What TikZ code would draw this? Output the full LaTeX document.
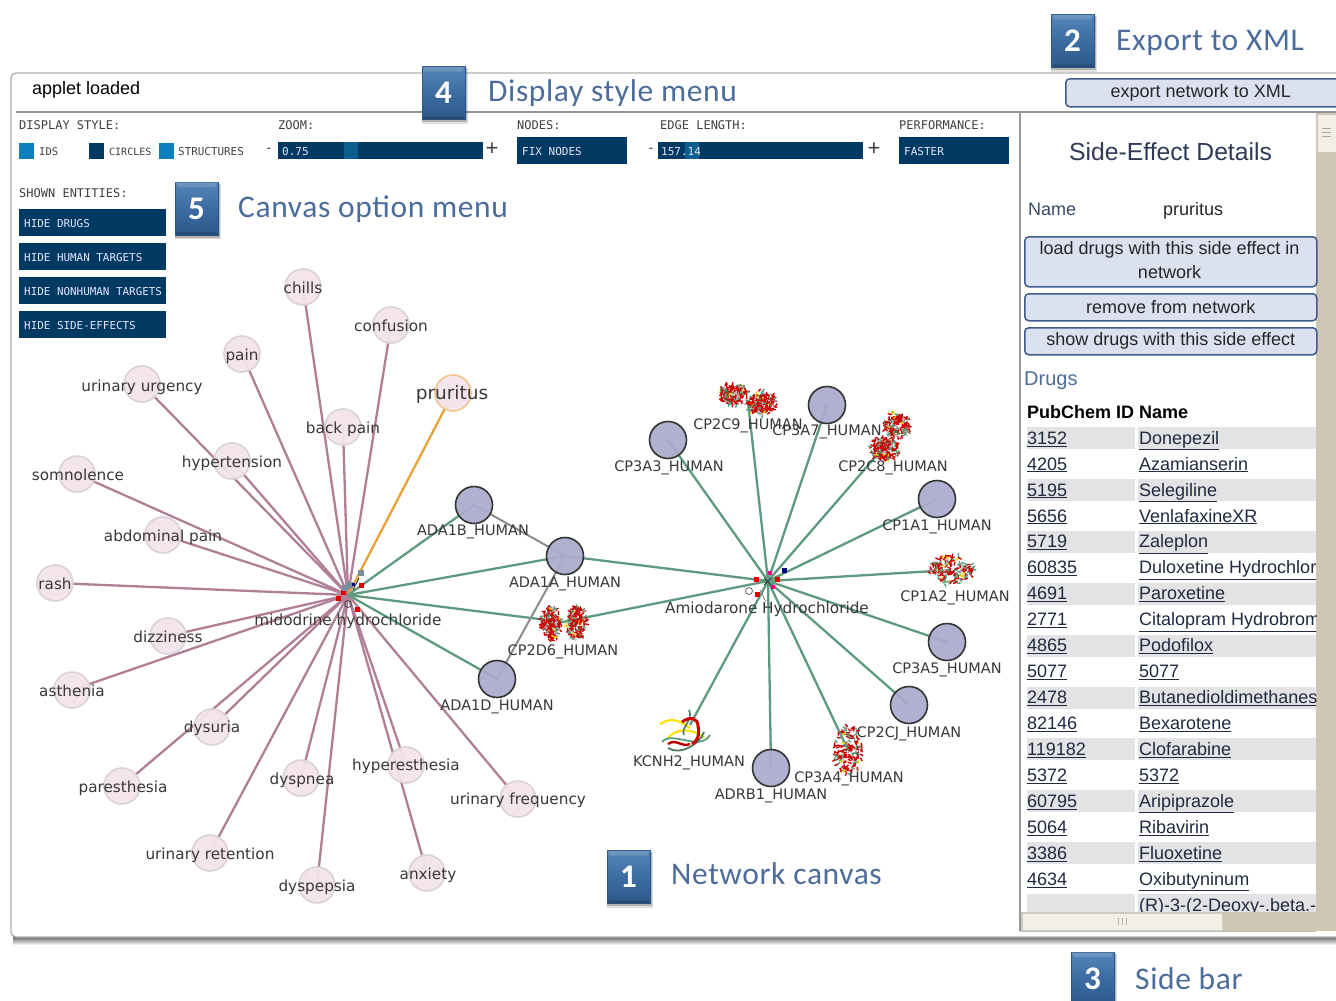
\documentclass[tikz,border=0pt]{standalone}
\usepackage{fontspec}
\usetikzlibrary{backgrounds}
\newfontfamily\netf{DejaVu Sans}
\newfontfamily\uif{Liberation Sans}
\newfontfamily\pixf{DejaVu Sans Mono}
\newfontfamily\callf[LetterSpace=2]{Carlito}
\newfontfamily\numf{Carlito}
\definecolor{navy}{HTML}{003A63}
\definecolor{skyb}{HTML}{0A80BD}
\definecolor{knob}{HTML}{0A5F8F}
\definecolor{eff}{HTML}{B07F97}
\definecolor{grn}{HTML}{5E9B7E}
\definecolor{tan}{HTML}{CFC6B3}
\definecolor{cream}{HTML}{F4EFE6}
\definecolor{rowg}{HTML}{E3E3E5}
\definecolor{calltxt}{HTML}{4C6C9B}
\definecolor{linkc}{HTML}{1F2A40}
\definecolor{btn}{HTML}{DCE1F0}
\definecolor{btnl}{HTML}{3F5A8C}
\definecolor{effp}{HTML}{F3E4EA}
\definecolor{effs}{HTML}{DAD2D6}
\definecolor{tgt}{HTML}{ABABCD}
\definecolor{callt}{HTML}{5585B8}
\definecolor{callm}{HTML}{3C6CA2}
\definecolor{callb}{HTML}{2C5888}
\definecolor{orng}{HTML}{E8A23A}
\definecolor{orngl}{HTML}{F2C58E}
\definecolor{headc}{HTML}{2F3A55}
\definecolor{namec}{HTML}{3A4A68}
\tikzset{
 effectnode/.style={circle,minimum size=36,inner sep=0,fill=effp,fill opacity=.95,draw=effs,line width=1.6},
 targetnode/.style={circle,minimum size=37,inner sep=0,fill=tgt,fill opacity=.93,draw=black!80,line width=1.6},
 protnode/.style={circle,minimum size=10,inner sep=0},
 hubnode/.style={circle,minimum size=2,inner sep=0},
 netlabel/.style={font=\netf\fontsize{15.25}{18}\selectfont,text=black!78,inner sep=0,anchor=mid,yshift=-3pt},
 tgtlabel/.style={netlabel,font=\netf\fontsize{14.5}{18}\selectfont},
 effedge/.style={draw=eff,line width=2.3},
 tgtedge/.style={draw=grn,line width=2.3},
 grayedge/.style={draw=black!45,line width=2},
 menulab/.style={font=\pixf\fontsize{12}{14}\selectfont,text=black!75,inner sep=0,anchor=mid west,yshift=-2.5pt},
 menusmall/.style={menulab,font=\pixf\fontsize{10.5}{13}\selectfont},
 plusminus/.style={font=\uif\fontsize{22}{24}\selectfont,text=black!75,inner sep=0,anchor=center},
 menubtn/.style={fill=navy,inner sep=0,anchor=north west},
 menutxt/.style={font=\pixf\fontsize{11}{13}\selectfont,text=white!90!blue,inner sep=0,anchor=mid west,yshift=-2.5pt},
 sidebtn/.style={draw=btnl,fill=btn,rounded corners=4,line width=1.5,inner sep=0,anchor=north west,align=center,text=black!85,font=\uif\fontsize{18}{24}\selectfont},
 uitext/.style={font=\uif\fontsize{18}{22}\selectfont,inner sep=0,anchor=mid west,text=black!85,yshift=-4pt},
 calloutbox/.style={minimum width=43,minimum height=53,inner sep=0,top color=callt,bottom color=callb,middle color=callm,draw=callb,line width=.6,text=white,font=\numf\bfseries\fontsize{33}{36}\selectfont},
 calltext/.style={font=\callf\fontsize{31.5}{38}\selectfont,text=calltxt,inner sep=0,anchor=mid west,yshift=-7.5pt},
}
\newcommand{\blob}[5]{% x y rx ry seed
 \pgfmathsetseed{#5}
 \foreach \k in {1,...,170}{
  \pgfmathsetmacro\ra{sqrt(rnd)}\pgfmathsetmacro\th{360*rnd}
  \pgfmathsetmacro\cx{#1+#3*\ra*cos(\th)}\pgfmathsetmacro\cy{#2+#4*\ra*sin(\th)}
  \pgfmathsetmacro\ph{360*rnd}\pgfmathsetmacro\cc{rnd}
  \pgfmathparse{\cc<.6?"red!80!black":(\cc<.88?"grn":(\cc<.94?"yellow!75!orange":"black!25"))}
  \edef\colr{\pgfmathresult}
  \draw[draw=\colr,line width=1.4,line cap=round] (\cx,\cy) -- ++(\ph:3);
 }}
\newcommand{\callbox}[4]{% name x y digit
 \fill[black,opacity=.12] (#2-22,#3-25) rectangle (#2+24.5,#3+30.5);
 \fill[black,opacity=.2] (#2-21.5,#3-25) rectangle (#2+23,#3+29);
 \node[calloutbox] (#1) at (#2,#3) {#4};
 \fill[white,opacity=.14] (#2-21.5,#3-26.5) -- (#2+21.5,#3-26.5) -- (#2+18.5,#3-21.5) -- (#2-18.5,#3-21.5) -- cycle;
 \fill[black,opacity=.15] (#2-21.5,#3+26.5) -- (#2+21.5,#3+26.5) -- (#2+19,#3+23.5) -- (#2-19,#3+23.5) -- cycle;
}
\begin{document}
\begin{tikzpicture}[x=1pt,y=-1pt]
\useasboundingbox (0,0) rectangle (1336,1001);
% window
\begin{scope}[on background layer]
 \fill[white] (0,0) rectangle (1336,1001);
 \shade[top color=black!65,bottom color=white] (13,936) rectangle (1336,945);
 \draw[draw=black!30,line width=1.4,fill=white,rounded corners=5] (11,937) -- (11,73) -- (1345,73) -- (1345,937) -- cycle;
 \draw[black!42,line width=1.6] (16,112) -- (1336,112);
 \draw[black!40,line width=1.3] (1020,112) -- (1020,931);
\end{scope}
% top bar
\node[uitext,text=black] (applet) at (32,88) {applet loaded};
\node[sidebtn,minimum width=280,minimum height=28] (exportbtn) at (1065,78) {\hspace*{-10pt}export network to XML};
% display menu
\node[menulab] (dstyle) at (19,124.5) {DISPLAY STYLE:};
\node[menubtn,minimum width=15,minimum height=16,fill=skyb] (idsq) at (19,142.5) {};
\node[menusmall] (idl) at (39,151) {IDS};
\node[menubtn,minimum width=15,minimum height=16] (cisq) at (89,142.5) {};
\node[menusmall,font=\pixf\fontsize{10}{13}\selectfont] (cil) at (109,151) {CIRCLES};
\node[menubtn,minimum width=15,minimum height=16,fill=skyb] (stsq) at (159,142.5) {};
\node[menusmall,font=\pixf\fontsize{10.9}{13}\selectfont] (stl) at (178,151) {STRUCTURES};
\node[menulab] (zooml) at (278,124.5) {ZOOM:};
\node[plusminus,font=\uif\fontsize{14}{16}\selectfont] (zm) at (269,150) {-};
\node[menubtn,minimum width=205,minimum height=17] (zbar) at (278,141.5) {};
\fill[knob] (344,141.5) rectangle (358,158.5);
\node[menutxt] (zval) at (282,151) {0.75};
\node[plusminus] (zp) at (492,149.5) {+};
\node[menulab] (nodesl) at (517,124.5) {NODES:};
\node[menubtn,minimum width=110,minimum height=27] (fixb) at (517,136.5) {};
\node[menutxt] (fixt) at (522,150.5) {FIX NODES};
\node[menulab] (edgel) at (660,124.5) {EDGE LENGTH:};
\node[plusminus,font=\uif\fontsize{14}{16}\selectfont] (em) at (651,150) {-};
\node[menubtn,minimum width=204.5,minimum height=17] (ebar) at (658,141.5) {};
\fill[knob] (685,141.5) rectangle (699,158.5);
\node[menutxt] (eval) at (661,151) {157.14};
\node[plusminus] (ep) at (874,149.5) {+};
\node[menulab] (perfl) at (899,124.5) {PERFORMANCE:};
\node[menubtn,minimum width=110,minimum height=27] (fastb) at (899,136.5) {};
\node[menutxt] (fastt) at (904,150.5) {FASTER};
% canvas menu
\node[menulab] (shown) at (19,192.5) {SHOWN ENTITIES:};
\foreach \n/\y/\t in {a/209/HIDE DRUGS,b/243/HIDE HUMAN TARGETS,c/277/HIDE NONHUMAN TARGETS,d/311/HIDE SIDE-EFFECTS}{
 \node[menubtn,minimum width=147,minimum height=27] (hb\n) at (19,\y) {};
 \node[menutxt,font=\pixf\fontsize{10.9}{13}\selectfont] (ht\n) at (24,\y+14) {\t};
}
% hubs
\node[hubnode] (hubA) at (348,595) {};
\node[hubnode] (hubB) at (768,581) {};
% side effects
\foreach \n/\x/\y/\lx/\ly/\t in {
 chills/303/287/303/288/chills, confusion/391/325/391/326/confusion, pain/242/354/242/355/pain,
 uurg/142/384/142/386/urinary urgency, backp/343/427/343/428/back pain, hyper/232/461/232/462/hypertension,
 somn/77/474/78/475/somnolence, abdom/163/535/163/536/abdominal pain, rash/55/583/55/584/rash,
 dizz/168/636/168/637/dizziness, asth/72/690/72/691/asthenia, dysu/212/727/212/727/dysuria,
 pares/122/786/123/787/paresthesia, dysp/301/778/302/779/dyspnea, hypere/406/765/406/765/hyperesthesia,
 ufreq/518/799/518/799/urinary frequency, uret/210/853/210/854/urinary retention, dyspe/317/885/317/886/dyspepsia,
 anx/427/873/428/874/anxiety}{
 \node[effectnode] (\n) at (\x,\y) {};
 \begin{scope}[on background layer]\draw[effedge] (hubA.center) -- (\n.center);\end{scope}
 \node[netlabel] (\n-l) at (\lx,\ly) {\t};
}
\node[effectnode,draw=orngl] (prur) at (453,393) {};
\begin{scope}[on background layer]\draw[draw=orng,line width=2.3] (hubA.center) -- (prur.center);\end{scope}
\node[netlabel,font=\netf\fontsize{18.5}{24}\selectfont] (prur-l) at (452,394) {pruritus};
% targets of hub A
\foreach \n/\x/\y/\lx/\ly/\t in {ada1b/474/505/473/530/ADA1B\_HUMAN, ada1a/565/556/565/582/ADA1A\_HUMAN, ada1d/497/679/497/705/ADA1D\_HUMAN}{
 \node[targetnode] (\n) at (\x,\y) {};
 \node[tgtlabel] (\n-l) at (\lx,\ly) {\t};
}
\node[protnode] (cp2d6) at (563,622) {};
\blob{551}{623}{10}{17}{11}
\blob{576}{623}{10}{17}{12}
\node[tgtlabel] (cp2d6-l) at (563,650) {CP2D6\_HUMAN};
\begin{scope}[on background layer]
 \foreach \n in {ada1b,ada1a,cp2d6,ada1d}{\draw[tgtedge] (hubA.center) -- (\n.center);}
 \draw[grayedge] (ada1b.center) -- (ada1a.center);
 \draw[grayedge] (ada1a.center) -- (ada1d.center);
 \draw[tgtedge] (hubB.center) -- (ada1a.center);
 \draw[tgtedge] (hubB.center) -- (cp2d6.center);
\end{scope}
% targets of hub B
\foreach \n/\x/\y/\lx/\ly/\t in {cp3a3/668/440/669/466/CP3A3\_HUMAN, cp3a7/827/405/827/430/CP3A7\_HUMAN, cp1a1/937/499/937/525/CP1A1\_HUMAN, cp3a5/947/642/947/668/CP3A5\_HUMAN, cp2cj/909/705/909/732/CP2CJ\_HUMAN, adrb1/771/768/771/794/ADRB1\_HUMAN}{
 \node[targetnode] (\n) at (\x,\y) {};
 \begin{scope}[on background layer]\draw[tgtedge] (hubB.center) -- (\n.center);\end{scope}
 \node[tgtlabel] (\n-l) at (\lx,\ly) {\t};
}
\foreach \n/\x/\y in {cp2c9/748/402,cp2c8/890/440,cp1a2/951/570,cp3a4/848/750,kcnh2/690/725}{
 \node[protnode] (\n) at (\x,\y) {};
 \begin{scope}[on background layer]\draw[tgtedge] (hubB.center) -- (\n.center);\end{scope}
}
\blob{733}{394}{14}{11}{21}
\blob{761}{403}{15}{12}{22}
\blob{897}{425}{13}{12}{31}
\blob{885}{449}{14}{11}{32}
\blob{951}{570}{22}{15}{41}
\blob{848}{750}{14}{24}{42}
% KCNH2 ribbon
\draw[yellow!85!orange,line width=2.2] (660,724) .. controls (672,716) and (682,722) .. (690,728);
\draw[yellow!85!orange,line width=2.2] (668,738) .. controls (678,726) and (696,730) .. (704,738);
\draw[grn,line width=1.8] (662,742) .. controls (672,730) and (700,752) .. (710,735);
\draw[grn!80!black,line width=1.8] (668,748) .. controls (680,756) and (700,744) .. (704,732);
\draw[grn!80!black,line width=1.6] (689,710) .. controls (694,720) and (680,728) .. (684,735);
\draw[red!80!black,line width=3] (682,722) .. controls (690,716) and (698,718) .. (698,726) .. controls (700,735) and (697,742) .. (692,744);
\draw[red!75!black,line width=2.4] (668,744) .. controls (676,738) and (682,748) .. (690,744);
\node[tgtlabel] (cp2c9-l) at (748,424) {CP2C9\_HUMAN};
\node[tgtlabel] (cp2c8-l) at (893,466) {CP2C8\_HUMAN};
\node[tgtlabel] (cp1a2-l) at (955,596) {CP1A2\_HUMAN};
\node[tgtlabel] (cp3a4-l) at (849,777) {CP3A4\_HUMAN};
\node[tgtlabel] (kcnh2-l) at (689,761) {KCNH2\_HUMAN};
% drug glyphs
\foreach \x/\y in {338/598,343/592,361/585,357/609,756/579,777/579,757/594}{\fill[red!90!black] (\x-2.5,\y-2.5) rectangle ++(5,5);}
\foreach \x/\y in {361/573,350/585,345/588}{\fill[black!35!cyan!40!gray] (\x-3,\y-3) rectangle ++(6,6);}
\foreach \x/\y in {770/573,773/587}{\fill[magenta!90!red] (\x-2,\y-2) rectangle ++(4,4);}
\fill[blue!50!black] (781.5,567.5) rectangle ++(5,5);
\fill[blue!50!black] (352,583) rectangle ++(3,3);
\draw[black!70,line width=.8] (348,604) circle (3.5);
\draw[black!60,line width=.8] (749,591) circle (3.5);
\draw[black!80,line width=1] (353,590) -- (359,578);
\draw[black!80,line width=1] (764,578) -- (771,585) (771,578) -- (764,585);
\draw[black!50,line width=.8] (760,590) .. controls (764,594) and (762,598) .. (766,601);
\node[netlabel] (hubA-l) at (348,620) {midodrine hydrochloride};
\node[netlabel] (hubB-l) at (767,608) {Amiodarone Hydrochloride};
% side bar
\fill[tan] (1316,113) rectangle (1336,931);
\fill[cream] (1318,115) rectangle (1336,152);
\foreach \y in {128,132,136}{\draw[black!35] (1322,\y) -- (1331,\y);}
\begin{scope}
 \clip (1021,113) rectangle (1316,912);
 \foreach \i/\pid/\nm in {0/3152/Donepezil,1/4205/Azamianserin,2/5195/Selegiline,3/5656/VenlafaxineXR,4/5719/Zaleplon,5/60835/Duloxetine Hydrochlor,6/4691/Paroxetine,7/2771/Citalopram Hydrobrom,8/4865/Podofilox,9/5077/5077,10/2478/Butanedioldimethanesu,11/82146/Bexarotene,12/119182/Clofarabine,13/5372/5372,14/60795/Aripiprazole,15/5064/Ribavirin,16/3386/Fluoxetine,17/4634/Oxibutyninum}{
  \pgfmathsetmacro\yy{438+25.95*\i}
  \pgfmathparse{int(mod(\i,2))}
  \ifnum\pgfmathresult=0
   \fill[rowg] (1027,\yy-11) rectangle (1135,\yy+11);
   \fill[rowg] (1138,\yy-11) rectangle (1316,\yy+11);
  \fi
  \node[uitext,text=linkc] (pid\i) at (1027,\yy) {\underline{\pid}};
  \node[uitext,text=linkc] (nm\i) at (1139,\yy) {\underline{\nm}};
 }
 \fill[rowg] (1027,894) rectangle (1135,912);
 \fill[rowg] (1138,894) rectangle (1316,912);
 \node[uitext,text=linkc] (nmlast) at (1139,905) {(R)-3-(2-Deoxy-.beta.-D};
\end{scope}
\fill[tan] (1021,912) rectangle (1316,931);
\fill[cream,draw=black!20] (1022,913) rectangle (1222,930);
\foreach \x in {1118,1122,1126}{\draw[black!30] (\x,918) -- (\x,925);}
\draw[black!25] (1020,931) -- (1316,931);
\node[uitext,font=\uif\fontsize{24.7}{30}\selectfont,text=headc,yshift=-2.5pt] (sdet) at (1069,152) {Side-Effect Details};
\node[uitext,text=namec] (namel) at (1028,209.5) {Name};
\node[uitext] (namev) at (1163,209.5) {pruritus};
\node[sidebtn,minimum width=292,minimum height=50] (load) at (1024,236) {};
\node[sidebtn,draw=none,fill=none,anchor=center] (loadt) at (1169.5,260.5) {load drugs with this side effect in\\network};
\node[sidebtn,minimum width=292,minimum height=27] (remove) at (1024,293) {\raisebox{1pt}{remove from network}};
\node[sidebtn,minimum width=292,minimum height=27] (showd) at (1024,327) {\raisebox{-1pt}{show drugs with this side effect}};
\node[uitext,font=\uif\fontsize{20}{24}\selectfont,text=calltxt] (drugsl) at (1024,379.5) {Drugs};
\node[uitext,font=\uif\bfseries\fontsize{18}{22}\selectfont,text=black] (pchead) at (1027,412.5) {PubChem ID};
\node[uitext,font=\uif\bfseries\fontsize{18}{22}\selectfont,text=black] (nmhead) at (1139,412.5) {Name};
% callouts
\callbox{c2}{1072.5}{41}{2}
\node[calltext] (c2t) at (1116,41) {Export to XML};
\callbox{c4}{443.5}{93}{4}
\node[calltext] (c4t) at (488,92) {Display style menu};
\callbox{c5}{196.5}{208.5}{5}
\node[calltext] (c5t) at (238,208) {Canvas option menu};
\callbox{c1}{628.5}{877}{1}
\node[calltext] (c1t) at (671,875) {Network canvas};
\callbox{c3}{1092.5}{978.5}{3}
\node[calltext] (c3t) at (1135,980) {Side bar};
\end{tikzpicture}
\end{document}
